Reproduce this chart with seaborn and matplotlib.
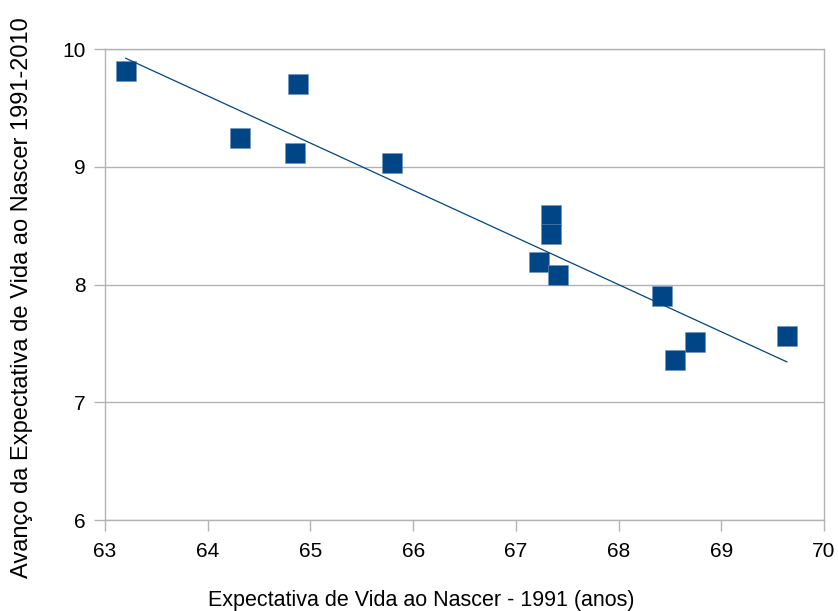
import matplotlib
matplotlib.use("Agg")
import matplotlib.pyplot as plt
import seaborn as sns
import pandas as pd

# Life expectancy at birth in 1991 and its gain from 1991 to 2010
expectativa_1991 = [63.20, 64.31, 64.88, 64.85, 65.79, 67.34, 67.34,
                    67.23, 67.41, 68.42, 68.55, 68.74, 69.64]
avanco_1991_2010 = [9.81, 9.24, 9.70, 9.12, 9.03, 8.59, 8.43,
                    8.19, 8.08, 7.90, 7.36, 7.51, 7.56]

x_ticks = [63, 64, 65, 66, 67, 68, 69, 70]
y_ticks = [6, 7, 8, 9, 10]

df = pd.DataFrame({"x": expectativa_1991, "y": avanco_1991_2010})

sns.set_theme(style="white")
plt.rcParams["font.family"] = ["Liberation Sans", "DejaVu Sans"]

blue = "#004586"
grey = "#b3b3b3"

fig = plt.figure(figsize=(8.38, 6.11), dpi=100)
ax = fig.add_axes([0.1253, 0.1489, 0.8580, 0.7709])

sns.regplot(data=df, x="x", y="y", ax=ax, ci=None, marker="s",
            scatter_kws={"s": 205, "color": blue, "edgecolor": "#6f93bd",
                         "linewidths": 0.4, "alpha": 1, "zorder": 3},
            line_kws={"color": blue, "linewidth": 0.9, "zorder": 4})

ax.set_xlim(63, 70)
ax.set_ylim(6, 10)
ax.set_xticks(x_ticks)
ax.set_yticks(y_ticks)
ax.yaxis.grid(True, color=grey, linewidth=1.0)
ax.set_axisbelow(True)
for s in ax.spines.values():
    s.set_color(grey)
    s.set_linewidth(1.0)
ax.tick_params(axis="both", direction="out", length=8, width=1.0,
               color=grey, labelsize=15, labelcolor="black",
               left=True, bottom=True)
ax.tick_params(axis="x", pad=8)
ax.tick_params(axis="y", pad=6)

ax.set_xlabel("Expectativa de Vida ao Nascer - 1991 (anos)", fontsize=15.5,
              color="black", va="center")
ax.set_ylabel("Avanço da Expectativa de Vida ao Nascer 1991-2010",
              fontsize=17, color="black", va="center")
ax.xaxis.set_label_coords(0.4395, -0.170)
ax.yaxis.set_label_coords(-0.1154, 0.472)

fig.savefig("out.png", dpi=100)
